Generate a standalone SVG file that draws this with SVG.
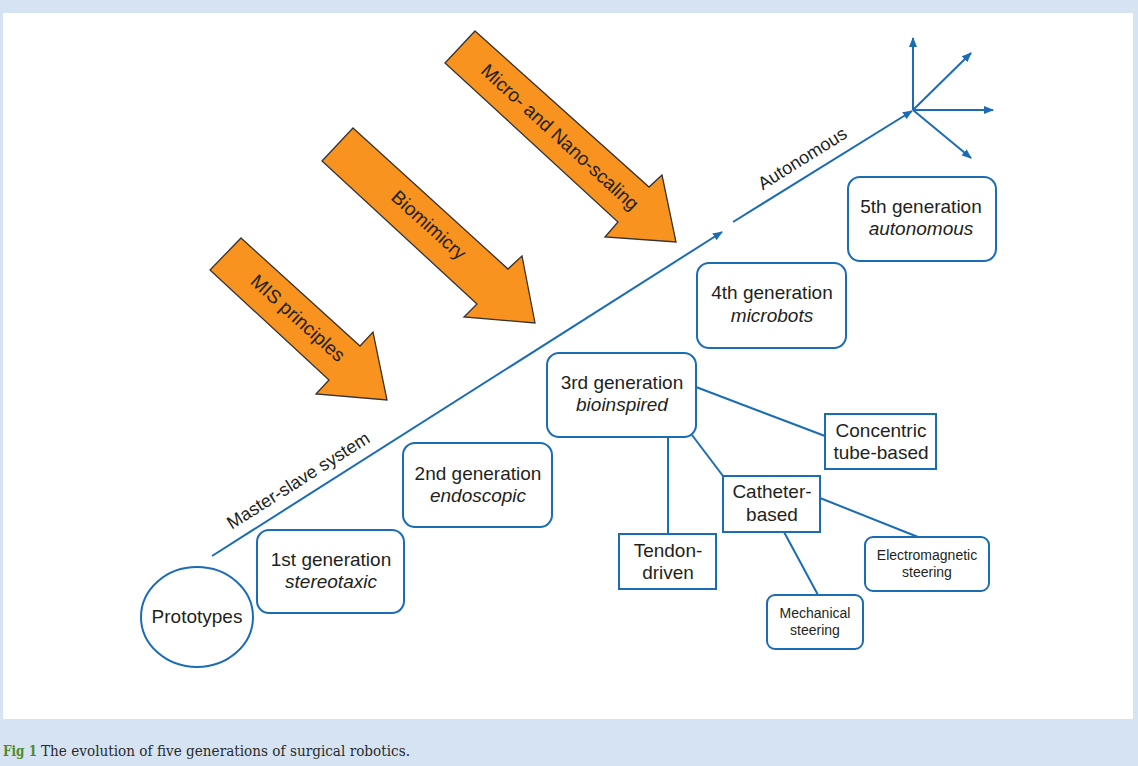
<svg xmlns="http://www.w3.org/2000/svg" width="1138" height="766" viewBox="0 0 1138 766">
<defs>
<marker id="ah" markerWidth="10" markerHeight="8" refX="9" refY="4" orient="auto" markerUnits="userSpaceOnUse">
<path d="M0,0 L10,4 L0,8 Z" fill="#1a6cb4"/>
</marker>
<style>
.bx{fill:#fff;stroke:#1a6cb4;stroke-width:2}
.ln{fill:none;stroke:#1a6cb4;stroke-width:2}
.t{font-family:"Liberation Sans",Arial,sans-serif;font-size:19px;fill:#231f20;text-anchor:middle}
.i{font-style:italic}
.s{font-family:"Liberation Sans",Arial,sans-serif;font-size:14px;fill:#231f20;text-anchor:middle}
.or{fill:#f7931e;stroke:#333;stroke-width:1.3;stroke-linejoin:miter}
.al{font-family:"Liberation Sans",Arial,sans-serif;font-size:19px;fill:#231f20;text-anchor:middle}
.ll{font-family:"Liberation Sans",Arial,sans-serif;font-size:18px;fill:#231f20;text-anchor:middle}
</style>
</defs>
<rect x="0" y="0" width="1138" height="766" fill="#d5e3f3"/>
<rect x="3" y="13" width="1130" height="706" fill="#fff"/>

<g id="connectors">
<line class="ln" x1="212" y1="556" x2="722" y2="232" marker-end="url(#ah)"/>
<line class="ln" x1="733" y1="222" x2="912" y2="111" marker-end="url(#ah)"/>
<line class="ln" x1="913" y1="110" x2="913" y2="38" marker-end="url(#ah)"/>
<line class="ln" x1="913" y1="110" x2="971" y2="53" marker-end="url(#ah)"/>
<line class="ln" x1="913" y1="110" x2="993" y2="110" marker-end="url(#ah)"/>
<line class="ln" x1="913" y1="110" x2="971" y2="158" marker-end="url(#ah)"/>
<line class="ln" x1="696" y1="387" x2="825" y2="436"/>
<line class="ln" x1="668" y1="437" x2="668" y2="534"/>
<line class="ln" x1="692" y1="435" x2="723" y2="476"/>
<line class="ln" x1="820" y1="498" x2="918" y2="537"/>
<line class="ln" x1="784" y1="532" x2="818" y2="595"/>
</g>

<g id="arrow-mis">
<polygon class="or" points="241,238 360,346 373,332 387,400 316,394 329,380 210,270"/>
<text class="al" transform="translate(293.6,322.9) rotate(42)">MIS principles</text>
</g>
<g id="arrow-bio">
<polygon class="or" points="353,128 508,269 522,256 535,323 464,317 477,304 322,161"/>
<text class="al" transform="translate(424.6,229.9) rotate(42)">Biomimicry</text>
</g>
<g id="arrow-micro">
<polygon class="or" points="475,31 649,187 662,175 676,242 605,237 618,222 445,63"/>
<text class="al" transform="translate(555.6,141.9) rotate(42.5)">Micro- and Nano-scaling</text>
</g>

<g id="label-master">
<text class="ll" transform="translate(301.5,485.6) rotate(-32.4)">Master-slave system</text>
</g>
<g id="label-autonomous">
<text class="ll" transform="translate(805.5,163.6) rotate(-32)">Autonomous</text>
</g>

<g id="prototypes">
<ellipse class="bx" cx="197" cy="617" rx="56" ry="50"/>
<text class="t" x="197" y="623">Prototypes</text>
</g>
<g id="gen1">
<rect class="bx" x="257" y="530" width="147" height="83" rx="12"/>
<text class="t" x="331" y="566">1st generation</text>
<text class="t i" x="331" y="588">stereotaxic</text>
</g>
<g id="gen2">
<rect class="bx" x="403" y="443" width="149" height="84" rx="12"/>
<text class="t" x="478" y="480">2nd generation</text>
<text class="t i" x="478" y="502">endoscopic</text>
</g>
<g id="gen3">
<rect class="bx" x="547" y="353" width="149" height="84" rx="12"/>
<text class="t" x="622" y="389">3rd generation</text>
<text class="t i" x="622" y="411">bioinspired</text>
</g>
<g id="gen4">
<rect class="bx" x="697" y="263" width="149" height="85" rx="12"/>
<text class="t" x="772" y="299">4th generation</text>
<text class="t i" x="772" y="322">microbots</text>
</g>
<g id="gen5">
<rect class="bx" x="848" y="177" width="148" height="84" rx="12"/>
<text class="t" x="921" y="213">5th generation</text>
<text class="t i" x="921" y="235">autonomous</text>
</g>
<g id="concentric">
<rect class="bx" x="825" y="414" width="111" height="55"/>
<text class="t" x="881" y="437">Concentric</text>
<text class="t" x="881" y="459">tube-based</text>
</g>
<g id="catheter">
<rect class="bx" x="723" y="476" width="97" height="56"/>
<text class="t" x="772" y="498">Catheter-</text>
<text class="t" x="772" y="521">based</text>
</g>
<g id="tendon">
<rect class="bx" x="619" y="534" width="97" height="55"/>
<text class="t" x="668" y="557">Tendon-</text>
<text class="t" x="668" y="579">driven</text>
</g>
<g id="mechanical">
<rect class="bx" x="767" y="595" width="96" height="54" rx="8"/>
<text class="s" x="815" y="618">Mechanical</text>
<text class="s" x="815" y="635">steering</text>
</g>
<g id="electromagnetic">
<rect class="bx" x="865" y="537" width="124" height="54" rx="8"/>
<text class="s" x="927" y="560">Electromagnetic</text>
<text class="s" x="927" y="577">steering</text>
</g>

<g id="caption">
<text x="3" y="756" font-family="'DejaVu Serif',serif" font-size="14" font-weight="bold" fill="#4e8a2e" textLength="34" lengthAdjust="spacingAndGlyphs">Fig 1</text>
<text x="41" y="756" font-family="'DejaVu Serif',serif" font-size="14" fill="#2a2a2a" textLength="369" lengthAdjust="spacingAndGlyphs">The evolution of five generations of surgical robotics.</text>
</g>
</svg>
